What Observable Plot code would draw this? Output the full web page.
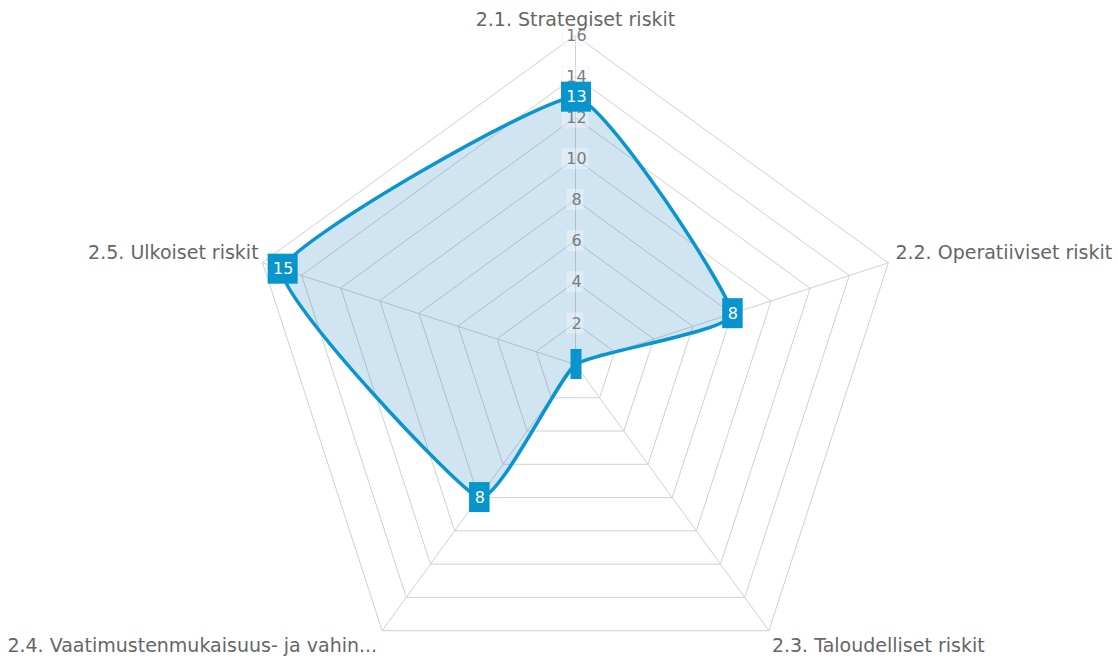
<!DOCTYPE html>
<html><head><meta charset="utf-8">
<script src="https://cdn.jsdelivr.net/npm/d3@7"></script>
<script src="https://cdn.jsdelivr.net/npm/@observablehq/plot@0.6"></script>
<style>body{margin:0;background:#fff;font-family:"DejaVu Sans",sans-serif}</style>
</head><body><div id="chart"></div>
<script>
const categories = ["2.1. Strategiset riskit","2.2. Operatiiviset riskit","2.3. Taloudelliset riskit","2.4. Vaatimustenmukaisuus- ja vahin...","2.5. Ulkoiset riskit"];
const values = [13, 8, 0, 8, 15];
const valueLabels = ["13", "8", "", "8", "15"];
const tickValues = [2, 4, 6, 8, 10, 12, 14, 16];
const maxValue = 16;

const W = 1118, H = 659, cx = 575, cy = 364, R = 329;
const k = R / maxValue;
const n = categories.length;
const ang = i => i * 2 * Math.PI / n;
const px = (i, v) => v * Math.sin(ang(i));
const py = (i, v) => v * Math.cos(ang(i));

const rings = tickValues.flatMap(t => categories.map((c, i) => ({t, x: px(i, t), y: py(i, t)})));
const spokes = categories.map((c, i) => ({x2: px(i, maxValue), y2: py(i, maxValue)}));
const pts = values.map((v, i) => ({v, label: valueLabels[i], x: px(i, v), y: py(i, v)}));
const axisLabels = categories.map((c, i) => ({c, i, x: px(i, maxValue), y: py(i, maxValue)}));

const labelPos = [
  {anchor: "middle", dx: 0, dy: -16},
  {anchor: "start", dx: 7, dy: -10},
  {anchor: "start", dx: 3, dy: 15},
  {anchor: "end", dx: -5, dy: 15},
  {anchor: "end", dx: -4, dy: -10}
];

const smooth = d3.curveCardinalClosed.tension(0.6);

const boxW = d => (11 + 9.5 * d.label.length) / 2 / k;
const boxH = 15 / k;
const tickW = t => (String(t).length * 10 + 6) / 2 / k;
const tickH = 10 / k;

const chart = Plot.plot({
  width: W, height: H,
  margin: 0,
  x: {domain: [-cx / k, (W - cx) / k], axis: null},
  y: {domain: [-(H - cy) / k, cy / k], axis: null},
  style: {fontFamily: "DejaVu Sans, sans-serif", background: "#fff"},
  marks: [
    Plot.line(rings, {x: "x", y: "y", z: "t", curve: "linear-closed", stroke: "#d0d0d0", strokeWidth: 1}),
    Plot.link(spokes, {x1: 0, y1: 0, x2: "x2", y2: "y2", stroke: "#d0d0d0", strokeWidth: 1}),
    Plot.line(pts, {x: "x", y: "y", curve: smooth, fill: "#2a86c2", fillOpacity: 0.22, stroke: "none"}),
    Plot.rect(tickValues, {x1: t => -tickW(t), x2: t => tickW(t), y1: t => t - tickH, y2: t => t + tickH, fill: "#fff", fillOpacity: 0.3, stroke: "#e6eef5", strokeOpacity: 0.6}),
    Plot.text(tickValues, {x: 0, y: d => d, dx: 1, text: d => String(d), fill: "#777c85", fontSize: 16}),
    Plot.line(pts, {x: "x", y: "y", curve: smooth, stroke: "#0b95cf", strokeWidth: 3.5, fill: "none"}),
    Plot.rect(pts, {x1: d => d.x + 1 / k - boxW(d), x2: d => d.x + 1 / k + boxW(d), y1: d => d.y - boxH, y2: d => d.y + boxH, fill: "#0894cc"}),
    Plot.text(pts, {x: "x", y: "y", dx: 1, text: "label", fill: "#fff", fontSize: 16}),
    ...labelPos.map((p, i) => Plot.text(axisLabels.filter(d => d.i === i), {x: "x", y: "y", text: "c", textAnchor: p.anchor, dx: p.dx, dy: p.dy, fill: "#666", fontSize: 19}))
  ]
});
document.getElementById("chart").appendChild(chart);
</script>
</body></html>
